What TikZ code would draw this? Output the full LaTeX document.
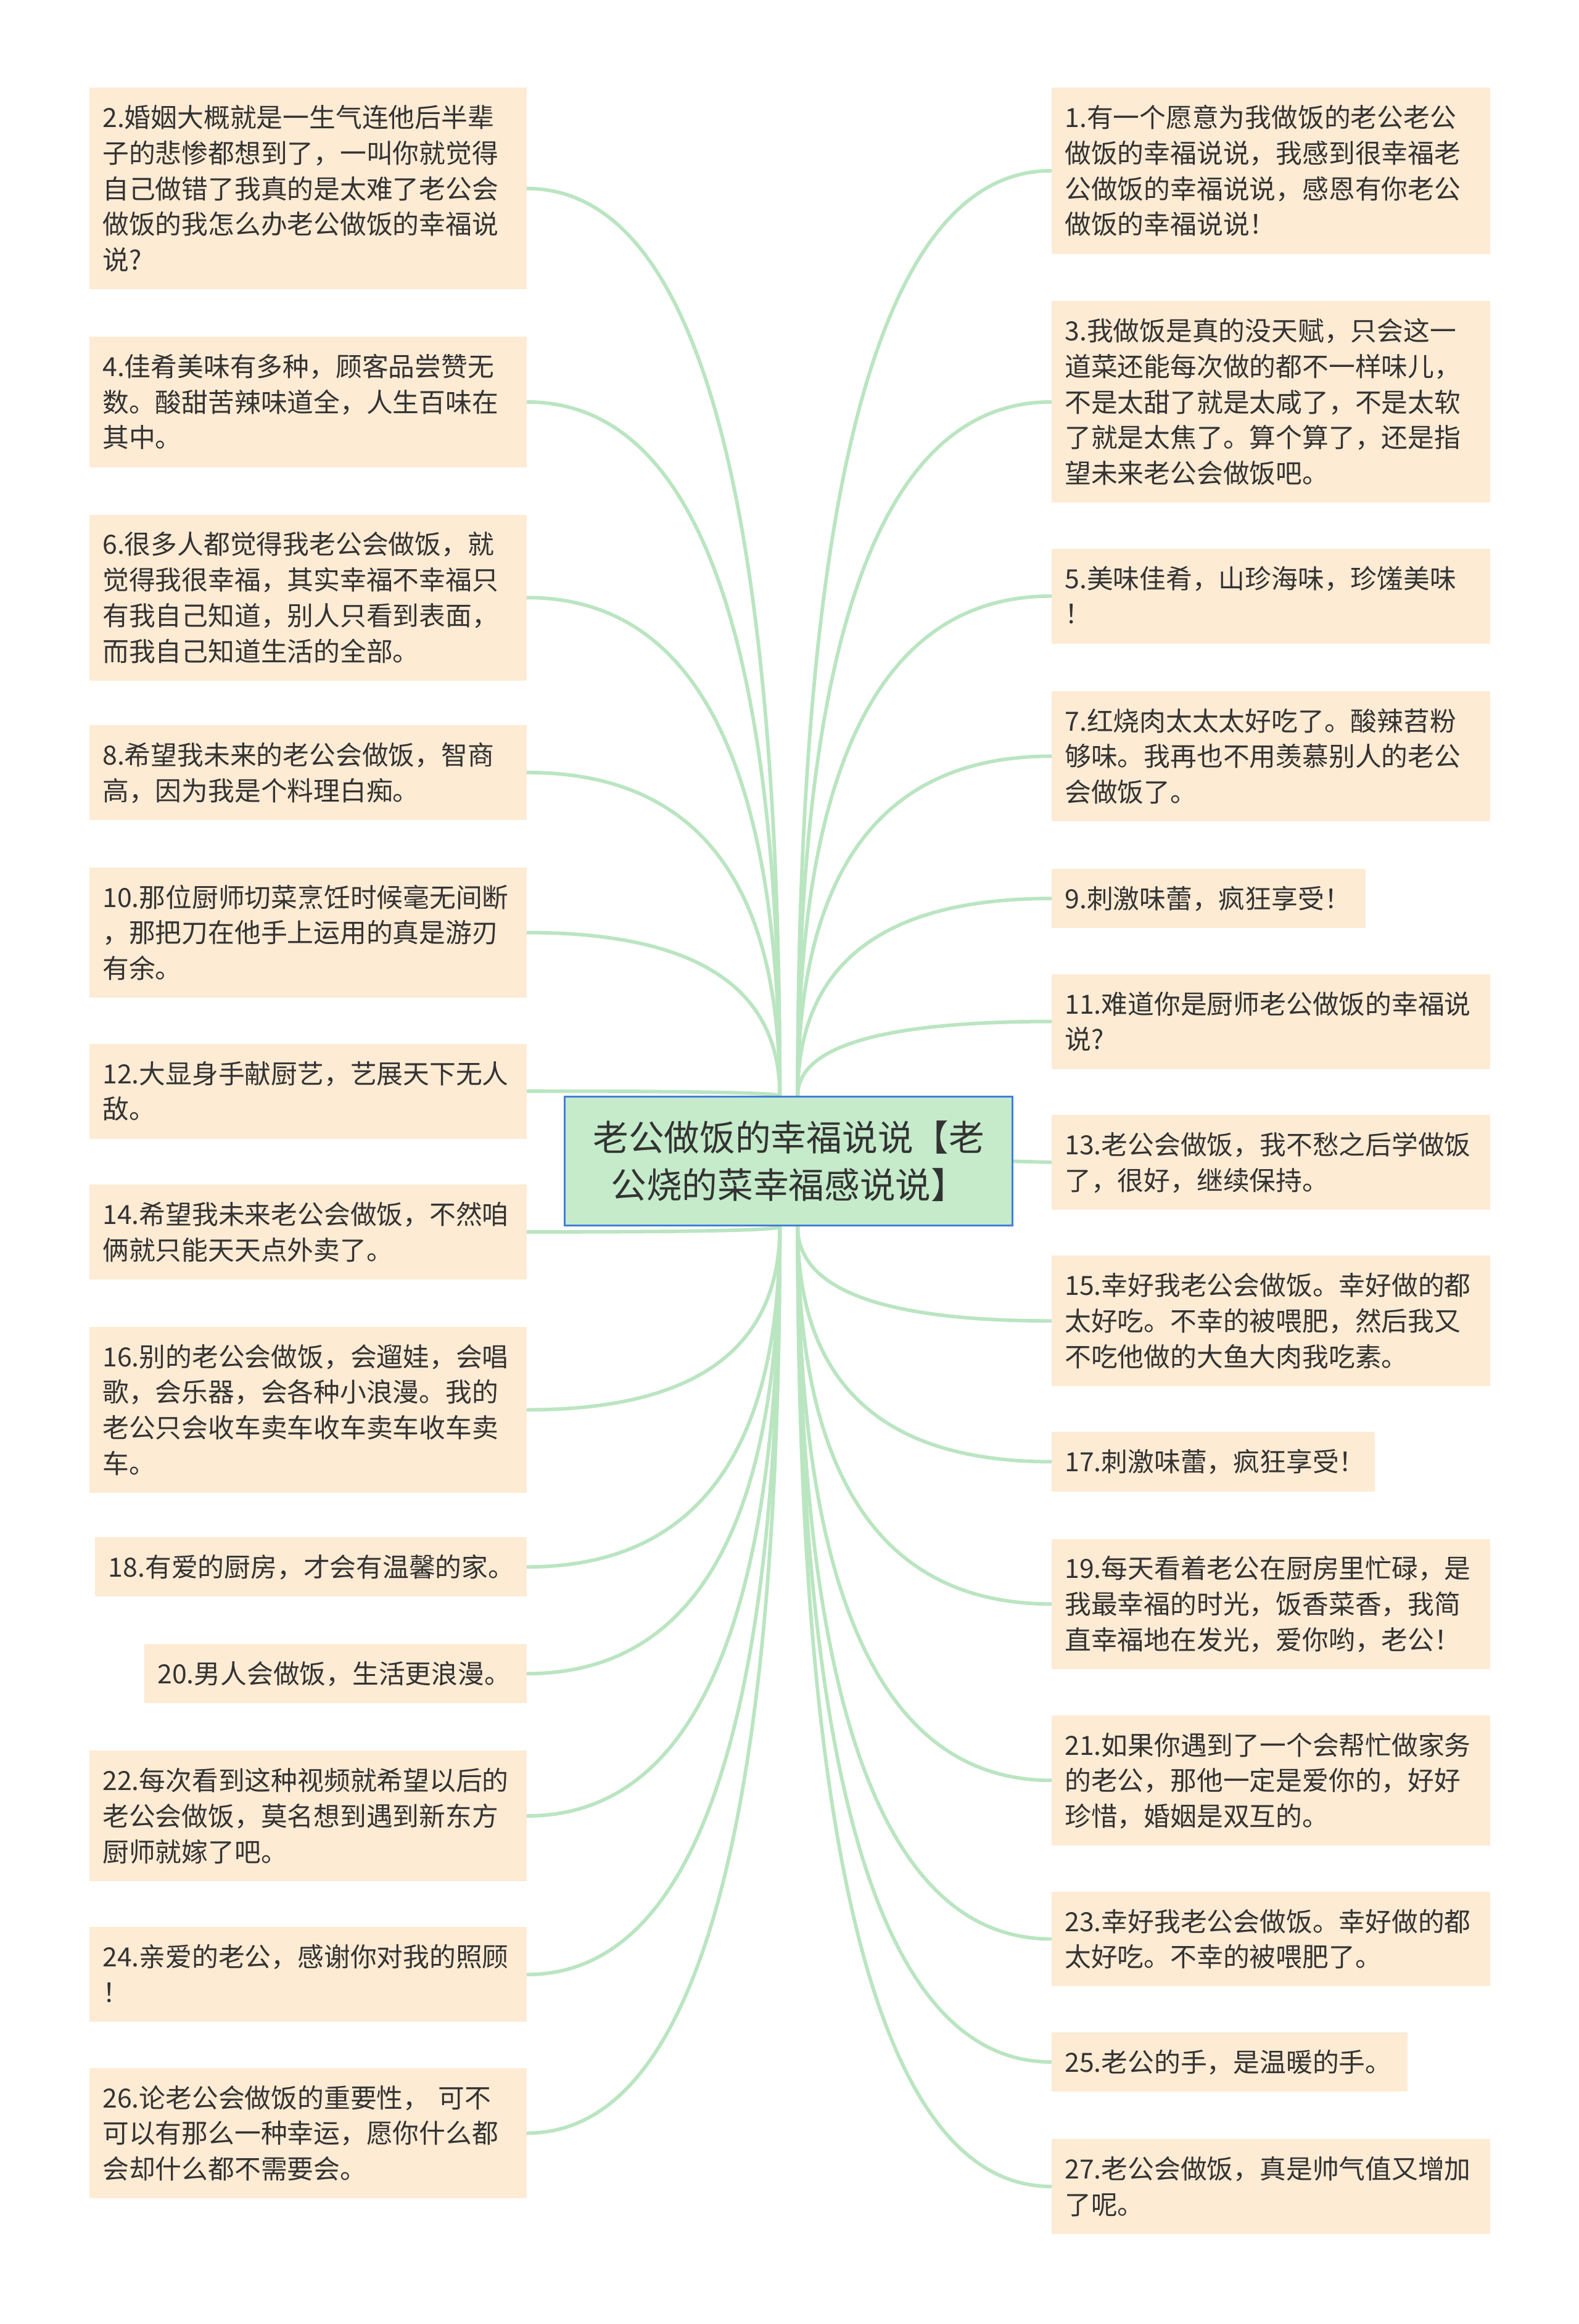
\documentclass[tikz,border=0pt]{standalone}
\usepackage{fontspec}
\setmainfont{Noto Sans CJK SC}
\usetikzlibrary{calc}
\definecolor{boxfill}{RGB}{254,235,212}
\definecolor{txtc}{RGB}{51,51,51}
\definecolor{connc}{RGB}{186,229,193}
\definecolor{cfill}{RGB}{197,235,202}
\definecolor{cdraw}{RGB}{66,126,218}
\pgfdeclarelayer{bg}
\pgfsetlayers{bg,main}
\newcommand\cs{\rule[-2.1pt]{0pt}{17.8pt}}
\newcommand\NL{\\\cs}
\tikzset{
  leaf/.style={fill=boxfill, text=txtc, font=\fontsize{17.8pt}{24pt}\selectfont,
    align=left, inner xsep=9pt, inner ysep=0pt, anchor=north west},
  topic/.style={fill=cfill, draw=cdraw, line width=1.2pt, text=txtc,
    font=\fontsize{24pt}{32pt}\selectfont, align=center,
    minimum width=302pt, minimum height=87pt, inner sep=0pt},
  ln/.style={line width=2.4pt, draw=connc, line cap=round},
}
\newcommand\leaf[6]{\node[leaf, text width=#4pt, minimum height=#5pt] (#1) at (#2,#3) {\cs #6};}
\newcommand\link[2]{\draw[ln] (#1) .. controls ($(#1)!0.6667!(#1 |- #2)$) and ($(#2)!0.6667!(#1 |- #2)$) .. (#2);}
\begin{document}
\begin{tikzpicture}[x=1pt,y=-1pt]
\useasboundingbox (0,0) rectangle (1065,1568);

\node[topic] (c) at (532,783.5) {老公做饭的幸福说说【老\\公烧的菜幸福感说说】};

% left column
\leaf{n2}{60}{59}{277}{136}{2.婚姻大概就是一生气连他后半辈\NL 子的悲惨都想到了，一叫你就觉得\NL 自己做错了我真的是太难了老公会\NL 做饭的我怎么办老公做饭的幸福说\NL 说?}
\leaf{n4}{60}{227}{277}{88}{4.佳肴美味有多种，顾客品尝赞无\NL 数。酸甜苦辣味道全，人生百味在\NL 其中。}
\leaf{n6}{60}{347}{277}{112}{6.很多人都觉得我老公会做饭，就\NL 觉得我很幸福，其实幸福不幸福只\NL 有我自己知道，别人只看到表面，\NL 而我自己知道生活的全部。}
\leaf{n8}{60}{489}{277}{64}{8.希望我未来的老公会做饭，智商\NL 高，因为我是个料理白痴。}
\leaf{n10}{60}{585}{277}{88}{10.那位厨师切菜烹饪时候毫无间断\NL ，那把刀在他手上运用的真是游刃\NL 有余。}
\leaf{n12}{60}{704}{277}{64}{12.大显身手献厨艺，艺展天下无人\NL 敌。}
\leaf{n14}{60}{799}{277}{64}{14.希望我未来老公会做饭，不然咱\NL 俩就只能天天点外卖了。}
\leaf{n16}{60}{895}{277}{112}{16.别的老公会做饭，会遛娃，会唱\NL 歌，会乐器，会各种小浪漫。我的\NL 老公只会收车卖车收车卖车收车卖\NL 车。}
\leaf{n18}{64}{1037}{273}{40}{18.有爱的厨房，才会有温馨的家。}
\leaf{n20}{97}{1109}{240}{40}{20.男人会做饭，生活更浪漫。}
\leaf{n22}{60}{1181}{277}{88}{22.每次看到这种视频就希望以后的\NL 老公会做饭，莫名想到遇到新东方\NL 厨师就嫁了吧。}
\leaf{n24}{60}{1300}{277}{64}{24.亲爱的老公，感谢你对我的照顾\NL ！}
\leaf{n26}{60}{1395}{277}{88}{26.论老公会做饭的重要性，~可不\NL 可以有那么一种幸运，愿你什么都\NL 会却什么都不需要会。}

% right column
\leaf{n1}{709}{59}{278}{112}{1.有一个愿意为我做饭的老公老公\NL 做饭的幸福说说，我感到很幸福老\NL 公做饭的幸福说说，感恩有你老公\NL 做饭的幸福说说！}
\leaf{n3}{709}{203}{278}{136}{3.我做饭是真的没天赋，只会这一\NL 道菜还能每次做的都不一样味儿，\NL 不是太甜了就是太咸了，不是太软\NL 了就是太焦了。算个算了，还是指\NL 望未来老公会做饭吧。}
\leaf{n5}{709}{370}{278}{64}{5.美味佳肴，山珍海味，珍馐美味\NL ！}
\leaf{n7}{709}{466}{278}{88}{7.红烧肉太太太好吃了。酸辣苕粉\NL 够味。我再也不用羡慕别人的老公\NL 会做饭了。}
\leaf{n9}{709}{586}{194}{40}{9.刺激味蕾，疯狂享受！}
\leaf{n11}{709}{657}{278}{64}{11.难道你是厨师老公做饭的幸福说\NL 说?}
\leaf{n13}{709}{752}{278}{64}{13.老公会做饭，我不愁之后学做饭\NL 了，很好，继续保持。}
\leaf{n15}{709}{847}{278}{88}{15.幸好我老公会做饭。幸好做的都\NL 太好吃。不幸的被喂肥，然后我又\NL 不吃他做的大鱼大肉我吃素。}
\leaf{n17}{709}{966}{200}{40}{17.刺激味蕾，疯狂享受！}
\leaf{n19}{709}{1038}{278}{88}{19.每天看着老公在厨房里忙碌，是\NL 我最幸福的时光，饭香菜香，我简\NL 直幸福地在发光，爱你哟，老公！}
\leaf{n21}{709}{1157}{278}{88}{21.如果你遇到了一个会帮忙做家务\NL 的老公，那他一定是爱你的，好好\NL 珍惜，婚姻是双互的。}
\leaf{n23}{709}{1276}{278}{64}{23.幸好我老公会做饭。幸好做的都\NL 太好吃。不幸的被喂肥了。}
\leaf{n25}{709}{1371}{222}{40}{25.老公的手，是温暖的手。}
\leaf{n27}{709}{1443}{278}{64}{27.老公会做饭，真是帅气值又增加\NL 了呢。}

\coordinate (tl) at ([xshift=-6pt]c.north);
\coordinate (tr) at ([xshift=6pt]c.north);
\coordinate (bl) at ([xshift=-6pt]c.south);
\coordinate (br) at ([xshift=6pt]c.south);

\begin{pgfonlayer}{bg}
\fill[white] (0,0) rectangle (1065,1568);
\link{tl}{n2.east}
\link{tl}{n4.east}
\link{tl}{n6.east}
\link{tl}{n8.east}
\link{tl}{n10.east}
\link{tl}{n12.east}
\link{bl}{n14.east}
\link{bl}{n16.east}
\link{bl}{n18.east}
\link{bl}{n20.east}
\link{bl}{n22.east}
\link{bl}{n24.east}
\link{bl}{n26.east}
\link{tr}{n1.west}
\link{tr}{n3.west}
\link{tr}{n5.west}
\link{tr}{n7.west}
\link{tr}{n9.west}
\link{tr}{n11.west}
\draw[ln] (c.east) -- (n13.west);
\link{br}{n15.west}
\link{br}{n17.west}
\link{br}{n19.west}
\link{br}{n21.west}
\link{br}{n23.west}
\link{br}{n25.west}
\link{br}{n27.west}
\end{pgfonlayer}
\end{tikzpicture}
\end{document}
